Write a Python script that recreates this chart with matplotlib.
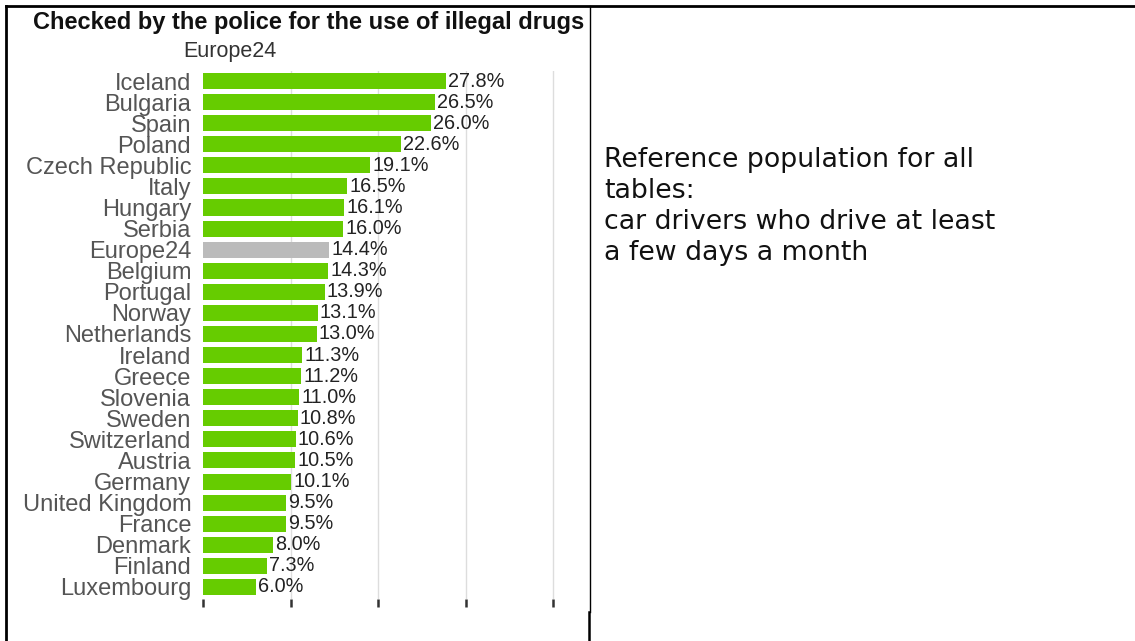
import matplotlib
matplotlib.use("Agg")
import matplotlib.pyplot as plt
from matplotlib.lines import Line2D

countries = ["Iceland", "Bulgaria", "Spain", "Poland", "Czech Republic", "Italy",
             "Hungary", "Serbia", "Europe24", "Belgium", "Portugal", "Norway",
             "Netherlands", "Ireland", "Greece", "Slovenia", "Sweden", "Switzerland",
             "Austria", "Germany", "United Kingdom", "France", "Denmark", "Finland",
             "Luxembourg"]
values = [27.8, 26.5, 26.0, 22.6, 19.1, 16.5, 16.1, 16.0, 14.4, 14.3, 13.9, 13.1,
          13.0, 11.3, 11.2, 11.0, 10.8, 10.6, 10.5, 10.1, 9.5, 9.5, 8.0, 7.3, 6.0]
value_labels = ["27.8%", "26.5%", "26.0%", "22.6%", "19.1%", "16.5%", "16.1%", "16.0%",
                "14.4%", "14.3%", "13.9%", "13.1%", "13.0%", "11.3%", "11.2%", "11.0%",
                "10.8%", "10.6%", "10.5%", "10.1%", "9.5%", "9.5%", "8.0%", "7.3%", "6.0%"]
highlight = "Europe24"
x_ticks = [0, 10, 20, 30, 40]
title = "Checked by the police for the use of illegal drugs"
subtitle = "Europe24"
note_lines = ["Reference population for all", "tables:",
              "car drivers who drive at least", "a few days a month"]

W, H = 1135, 641
fig = plt.figure(figsize=(W / 100, H / 100), dpi=100)
fig.patch.set_facecolor("white")

def fx(px):
    return px / W

def fy(py):
    return 1 - py / H

ax_left, ax_right, ax_top, ax_bottom = 203, 557.4, 70.5, 598.5
ax = fig.add_axes([fx(ax_left), fy(ax_bottom), fx(ax_right - ax_left), (ax_bottom - ax_top) / H])

GREEN = "#66cc00"
GREY = "#bbbbbb"
colors = [GREY if c == highlight else GREEN for c in countries]
ypos = list(range(len(countries)))
ax.barh(ypos, values, height=0.76, color=colors, zorder=2)
ax.set_ylim(len(countries) - 0.45, -0.5)
ax.set_xlim(0, 40.5)

for y, v, lab in zip(ypos, values, value_labels):
    ax.text(v + 0.25, y, lab, va="center", ha="left", fontsize=14.3,
            family="Liberation Sans", color="#222222", zorder=3)

ax.set_yticks(ypos)
ax.set_yticklabels(countries, family="Liberation Sans", fontsize=17, color="#555555")
ax.tick_params(axis="y", length=0, pad=8.5)
ax.set_xticks(x_ticks)
ax.set_xticklabels([])
ax.tick_params(axis="x", direction="out", length=6, width=1.8, color="#333333")
for s in ax.spines.values():
    s.set_visible(False)
ax.set_axisbelow(True)
for t in x_ticks[1:]:
    ax.axvline(t, color="#dddddd", lw=1.0, zorder=0)

fig.text(fx(309), fy(22), title, ha="center", va="center", fontsize=17,
         fontweight="bold", family="Liberation Sans", color="#111111")
fig.text(fx(230), fy(52), subtitle, ha="center", va="center", fontsize=15.5,
         family="Liberation Sans", color="#333333")

for i, line in enumerate(note_lines):
    fig.text(fx(604), fy(160 + 31 * i), line, ha="left", va="center", fontsize=19.3,
             family="DejaVu Sans", color="#111111")

# table borders
fig.add_artist(Line2D([fx(6), fx(W)], [fy(6), fy(6)], color="black", lw=2.0))
fig.add_artist(Line2D([fx(6), fx(6)], [fy(6), fy(H)], color="black", lw=2.0))
fig.add_artist(Line2D([fx(589.5), fx(589.5)], [fy(6), fy(612)], color="black", lw=1.0))
fig.add_artist(Line2D([fx(589), fx(589)], [fy(612), fy(H)], color="black", lw=1.8))

fig.savefig("out.png", dpi=100, facecolor="white")
